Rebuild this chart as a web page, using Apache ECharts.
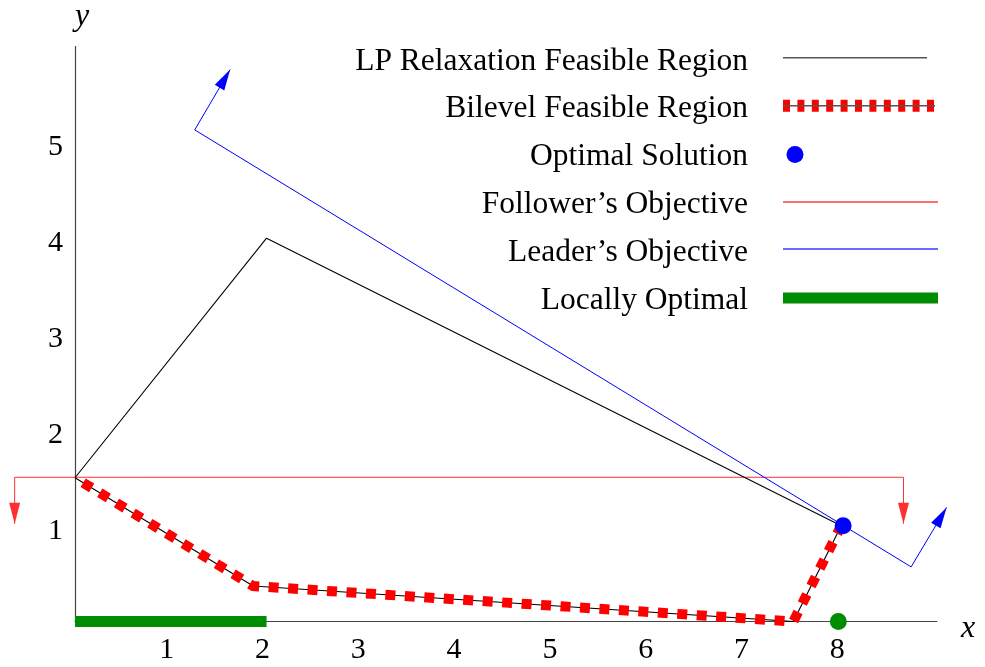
<!DOCTYPE html>
<html>
<head>
<meta charset="utf-8">
<script src="https://cdn.jsdelivr.net/npm/echarts@6/dist/echarts.min.js"></script>
<style>
  html, body { margin: 0; padding: 0; background: #ffffff; }
  #chart { width: 985px; height: 667px; }
</style>
</head>
<body>
<div id="chart"></div>
<script>
// ---- data ----
// LP relaxation feasible region (closed polygon)
const lpRelaxation = [[0, 1.5], [2, 4], [8, 1], [7.5, 0], [1.86, 0.37], [0, 1.5]];
// Bilevel feasible region (lower boundary path)
const bilevelRegion = [[0, 1.5], [1.86, 0.37], [7.5, 0], [8, 1]];
// Optimal solution
const optimalSolution = [[8.02, 1]];
// Locally optimal: segment on the x axis and an isolated point
const locallyOptimalSegment = [[0, 0], [2, 0]];
const locallyOptimalPoint = [[7.97, 0]];
// Objective direction indicators (first and last points are arrow tips)
const followerObjective = [[-0.63, 1.02], [-0.63, 1.505], [8.65, 1.505], [8.65, 1.02]];
const leaderObjective = [[1.62, 5.76], [1.25, 5.13], [8.73, 0.57], [9.10, 1.19]];
// Tick labels shown on the axes
const xTickLabels = [1, 2, 3, 4, 5, 6, 7, 8];
const yTickLabels = [1, 2, 3, 4, 5];
// Legend entries
const legendLabels = [
  'LP Relaxation Feasible Region',
  'Bilevel Feasible Region',
  'Optimal Solution',
  'Follower\u2019s Objective',
  'Leader\u2019s Objective',
  'Locally Optimal'
];

const FONT = '"Liberation Serif", "Times New Roman", serif';
const RED = '#ff0000';
const BLUE = '#0000ff';
const GREEN = '#008c00';

// Polyline with arrow heads at both ends, drawn once for the whole series
function arrowPath(color) {
  return function (params, api) {
    if (params.dataIndex !== 0) return null;
    const n = params.dataInsideLength;
    const pts = [];
    for (let i = 0; i < n; i++) {
      pts.push(api.coord([api.value(0, i), api.value(1, i)]));
    }
    const head = (tip, from) => {
      const dx = tip[0] - from[0], dy = tip[1] - from[1];
      const len = Math.sqrt(dx * dx + dy * dy);
      const ux = dx / len, uy = dy / len;
      const L = 21, W = 5.5;
      const bx = tip[0] - ux * L, by = tip[1] - uy * L;
      return {
        type: 'polygon',
        shape: { points: [tip, [bx - uy * W, by + ux * W], [bx + uy * W, by - ux * W]] },
        style: { fill: color }
      };
    };
    return {
      type: 'group',
      children: [
        { type: 'polyline', shape: { points: pts }, style: { stroke: color, lineWidth: 1, fill: null } },
        head(pts[0], pts[1]),
        head(pts[n - 1], pts[n - 2])
      ]
    };
  };
}

// ---- legend (drawn as graphic elements, text left of the key) ----
const legendTextRight = 748;
const legendRowY = [62, 109, 157, 205, 252.5, 300.5];
const legendKeyX0 = 783;
const legendGraphics = [];
legendLabels.forEach((label, i) => {
  legendGraphics.push({
    type: 'text',
    x: legendTextRight, y: legendRowY[i],
    style: { text: label, font: '31.5px ' + FONT, fill: '#000', align: 'right', verticalAlign: 'middle' }
  });
});
const ky = [57.7, 105.7, 154.5, 202, 249, 298];
legendGraphics.push(
  { type: 'line', shape: { x1: legendKeyX0, y1: ky[0], x2: 927, y2: ky[0] }, style: { stroke: '#555', lineWidth: 1.6 } },
  { type: 'line', shape: { x1: legendKeyX0, y1: ky[1], x2: 935, y2: ky[1] }, style: { stroke: RED, lineWidth: 12, lineDash: [7, 7.4] } },
  { type: 'line', shape: { x1: legendKeyX0, y1: ky[1], x2: 935, y2: ky[1] }, style: { stroke: '#555', lineWidth: 1.4 } },
  { type: 'circle', shape: { cx: 795, cy: ky[2], r: 8.5 }, style: { fill: BLUE } },
  { type: 'line', shape: { x1: legendKeyX0, y1: ky[3], x2: 938, y2: ky[3] }, style: { stroke: '#ff4040', lineWidth: 1.4 } },
  { type: 'line', shape: { x1: legendKeyX0, y1: ky[4], x2: 938, y2: ky[4] }, style: { stroke: '#3a3aff', lineWidth: 1.4 } },
  { type: 'line', shape: { x1: legendKeyX0, y1: ky[5], x2: 938, y2: ky[5] }, style: { stroke: GREEN, lineWidth: 11 } }
);

const chart = echarts.init(document.getElementById('chart'), null, { renderer: 'canvas' });
chart.setOption({
  backgroundColor: '#ffffff',
  animation: false,
  grid: { left: 75, top: 46.5, width: 862, height: 575, containLabel: false },
  xAxis: {
    type: 'value', min: 0, max: 9, interval: 1,
    name: 'x', nameLocation: 'end', nameGap: 24,
    nameTextStyle: { fontFamily: FONT, fontStyle: 'italic', fontSize: 32, color: '#000', verticalAlign: 'top', lineHeight: 14 },
    axisLine: { show: true, lineStyle: { color: '#444', width: 1.2 } },
    axisTick: { show: false },
    splitLine: { show: false },
    axisLabel: {
      margin: 14, fontFamily: FONT, fontSize: 30, color: '#000', padding: [0, 8, 0, 0],
      formatter: v => (xTickLabels.indexOf(v) >= 0 ? String(v) : '')
    }
  },
  yAxis: {
    type: 'value', min: 0, max: 6, interval: 1,
    name: 'y', nameLocation: 'end', nameGap: 14,
    nameTextStyle: { fontFamily: FONT, fontStyle: 'italic', fontSize: 32, color: '#000', align: 'left', padding: [0, 0, 0, 0] },
    axisLine: { show: true, lineStyle: { color: '#444', width: 1.2 } },
    axisTick: { show: false },
    splitLine: { show: false },
    axisLabel: {
      margin: 12, fontFamily: FONT, fontSize: 30, color: '#000',
      verticalAlign: 'top', lineHeight: 10,
      formatter: v => (yTickLabels.indexOf(v) >= 0 ? String(v) : '')
    }
  },
  graphic: legendGraphics,
  series: [
    {
      name: legendLabels[0], type: 'line', data: lpRelaxation, symbol: 'none', z: 3,
      lineStyle: { color: '#000', width: 1.1 }
    },
    {
      name: legendLabels[1], type: 'line', data: bilevelRegion, symbol: 'none', z: 4,
      lineStyle: { color: RED, width: 10, type: [10, 9.5], dashOffset: 10, cap: 'butt', join: 'miter' }
    },
    {
      name: legendLabels[3], type: 'custom', data: followerObjective, z: 2, clip: false,
      renderItem: arrowPath('#ff3030')
    },
    {
      name: legendLabels[4], type: 'custom', data: leaderObjective, z: 2, clip: false,
      renderItem: arrowPath(BLUE)
    },
    {
      name: legendLabels[5], type: 'line', data: locallyOptimalSegment, symbol: 'none', z: 5,
      lineStyle: { color: GREEN, width: 11, cap: 'butt' }
    },
    {
      name: legendLabels[5], type: 'scatter', data: locallyOptimalPoint, symbol: 'circle', symbolSize: 17, z: 6,
      itemStyle: { color: GREEN, opacity: 1 }
    },
    {
      name: legendLabels[2], type: 'scatter', data: optimalSolution, symbol: 'circle', symbolSize: 17, z: 6,
      itemStyle: { color: BLUE, opacity: 1 }
    }
  ]
});
</script>
</body>
</html>
